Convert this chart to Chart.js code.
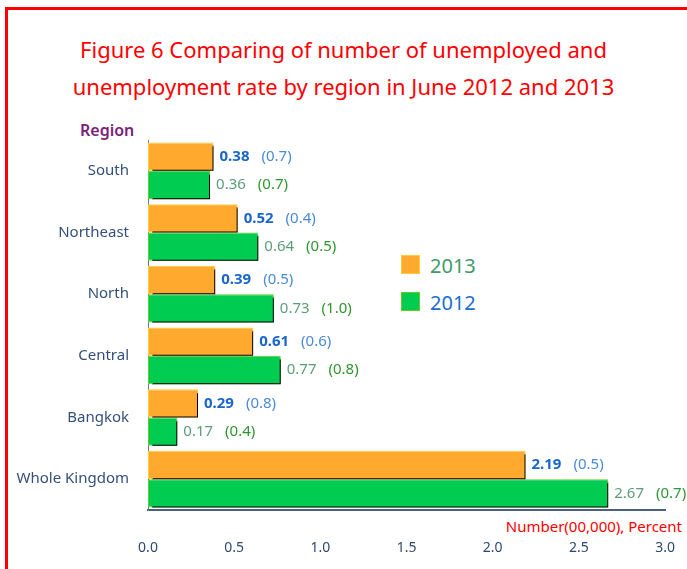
<!DOCTYPE html>
<html>
<head>
<meta charset="utf-8">
<script src="https://cdn.jsdelivr.net/npm/chart.js@4.4.0/dist/chart.umd.min.js"></script>
<style>
  html, body { margin:0; padding:0; background:#fff; }
  body { width:687px; height:569px; overflow:hidden; position:relative; font-family:"Noto Sans", sans-serif; }
  #frame { position:absolute; left:5px; top:7px; width:800px; height:700px; border:3px solid #ff0000; box-sizing:border-box; }
  #title { position:absolute; left:0; width:687px; top:31px; text-align:center; color:#ff0000; font-size:22px; font-weight:normal; line-height:37px; }
  #region { position:absolute; left:80px; top:119px; color:#7a1f7a; font-size:16px; font-weight:600; }
  #unit { position:absolute; right:5px; top:516px; color:#ff0000; font-size:15px; }
  #legend { position:absolute; left:401px; top:255px; font-size:20px; }
  .li { position:relative; height:37px; }
  .sw { position:absolute; left:0; top:0; width:19px; height:19px; box-sizing:border-box; }
  .lt { position:absolute; left:29px; top:-3px; }
  canvas { position:absolute; left:0; top:0; }
</style>
</head>
<body>
<div id="frame"></div>
<div id="title">Figure 6 Comparing of number of unemployed and<br>unemployment rate by region in June 2012 and 2013</div>
<div id="region">Region</div>
<div id="unit">Number(00,000), Percent</div>
<div id="legend">
  <div class="li"><div class="sw" style="background:#ffa92f;border:1px solid #ffcc33"></div><div class="lt" style="color:#3f9a6a">2013</div></div>
  <div class="li"><div class="sw" style="background:#00cc52;border:1px solid #66cc22"></div><div class="lt" style="color:#1a6fd0">2012</div></div>
</div>
<canvas id="c" width="705" height="569"></canvas>
<script>
const categories = ["South", "Northeast", "North", "Central", "Bangkok", "Whole Kingdom"];
const unemployed2013 = [0.38, 0.52, 0.39, 0.61, 0.29, 2.19];
const rate2013 = ["0.7", "0.4", "0.5", "0.6", "0.8", "0.5"];
const unemployed2012 = [0.36, 0.64, 0.73, 0.77, 0.17, 2.67];
const rate2012 = ["0.7", "0.5", "1.0", "0.8", "0.4", "0.7"];
const xTicks = [0, 0.5, 1.0, 1.5, 2.0, 2.5, 3.0];

const shadowPlugin = {
  id: 'barShadow',
  beforeDatasetDraw(chart) {
    const ctx = chart.ctx;
    ctx.save();
    ctx.shadowColor = '#000000';
    ctx.shadowOffsetX = 4;
    ctx.shadowOffsetY = 3;
    ctx.shadowBlur = 0;
  },
  afterDatasetDraw(chart) {
    chart.ctx.restore();
  }
};

const labelPlugin = {
  id: 'barLabels',
  afterDatasetsDraw(chart) {
    const ctx = chart.ctx;
    const styles = [
      { vFont: 'bold 15px "Noto Sans"', vColor: '#1a66cc', rColor: '#4a8ad8', rates: rate2013 },
      { vFont: '15px "Noto Sans"', vColor: '#5a9e78', rColor: '#2f962f', rates: rate2012 }
    ];
    chart.data.datasets.forEach((ds, di) => {
      const meta = chart.getDatasetMeta(di);
      const st = styles[di];
      meta.data.forEach((bar, i) => {
        ctx.save();
        ctx.textBaseline = 'middle';
        ctx.textAlign = 'left';
        const vText = ds.data[i].toFixed(2);
        let x = bar.x + 6;
        ctx.font = st.vFont;
        ctx.fillStyle = st.vColor;
        ctx.fillText(vText, x, bar.y);
        x += ctx.measureText(vText).width + 12;
        ctx.font = '15px "Noto Sans"';
        ctx.fillStyle = st.rColor;
        ctx.fillText('(' + st.rates[i] + ')', x, bar.y);
        ctx.restore();
      });
    });
  }
};

new Chart(document.getElementById('c'), {
  type: 'bar',
  data: {
    labels: categories,
    datasets: [
      { label: '2013', data: unemployed2013, backgroundColor: '#ffa92f', borderColor: '#ffcc33', borderWidth: 1, borderSkipped: false,
        categoryPercentage: 0.92, barPercentage: 1.0 },
      { label: '2012', data: unemployed2012, backgroundColor: '#00cc52', borderColor: '#66cc22', borderWidth: 1, borderSkipped: false,
        categoryPercentage: 0.92, barPercentage: 1.0 }
    ]
  },
  options: {
    indexAxis: 'y',
    responsive: false,
    animation: false,
    devicePixelRatio: 1,
    layout: { padding: { top: 140, right: 4, left: 0, bottom: 0 } },
    plugins: { legend: { display: false }, tooltip: { enabled: false }, title: { display: false } },
    scales: {
      x: {
        min: 0, max: 3,
        afterFit(scale) { scale.height = 59; },
        afterBuildTicks(scale) { scale.ticks = xTicks.map(v => ({ value: v })); },
        grid: { display: false, drawTicks: false },
        border: { display: true, color: '#4a6080', width: 2 },
        ticks: { padding: 30, color: '#2c4a70', font: { family: 'Noto Sans', size: 14 },
                 callback: v => Number(v).toFixed(1), maxRotation: 0, autoSkip: false }
      },
      y: {
        afterFit(scale) { scale.width = 148; },
        grid: { display: false, drawTicks: false },
        border: { display: true, color: '#5a7aa0', width: 1 },
        ticks: { padding: 19, color: '#34507a', font: { family: 'Noto Sans', size: 15 } }
      }
    }
  },
  plugins: [shadowPlugin, labelPlugin]
});
</script>
</body>
</html>
